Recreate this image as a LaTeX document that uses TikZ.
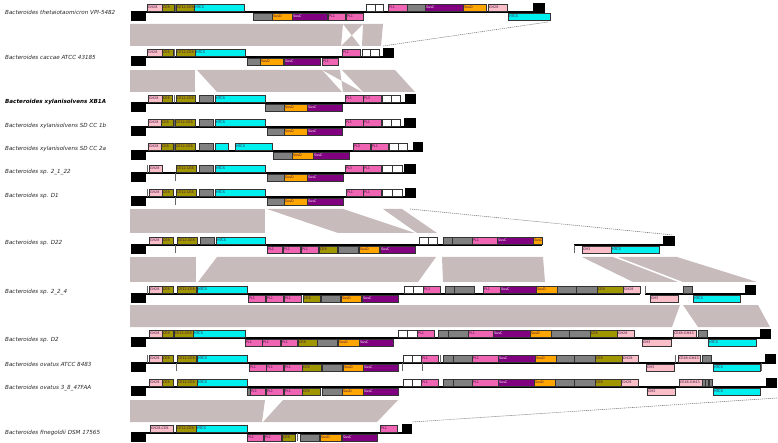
\documentclass[tikz,border=0pt]{standalone}
\usepackage{fontspec}
\setmainfont{DejaVu Sans}
\definecolor{cGH}{RGB}{250,190,200}
\definecolor{cCE}{RGB}{160,150,0}
\definecolor{cHT}{RGB}{0,240,240}
\definecolor{cGR}{RGB}{128,128,128}
\definecolor{cSD}{RGB}{255,165,0}
\definecolor{cSC}{RGB}{128,0,128}
\definecolor{cPL}{RGB}{240,100,180}
\definecolor{cBD}{RGB}{200,187,187}
\definecolor{cTX}{RGB}{70,20,70}
\newcounter{nn}
\tikzset{
 gene/.style={draw=black!80, line width=0.5pt},
 glab/.style={anchor=west, inner sep=0pt, font=\fontsize{3.4}{3.4}\selectfont, text=cTX},
 sp/.style={anchor=west, inner sep=0pt, font=\fontsize{5.6}{6}\selectfont\itshape, text=black!85},
 sGH/.style={fill=cGH}, sCE/.style={fill=cCE}, sHT/.style={fill=cHT},
 sGR/.style={fill=cGR}, sSD/.style={fill=cSD}, sSC/.style={fill=cSC},
 sPL/.style={fill=cPL}, sWH/.style={fill=white},
 hom/.style={fill=cBD},
 dline/.style={draw=black!50, dashed, dash pattern=on 1.2pt off 0.8pt, line width=0.6pt}
}
\newcommand\gT[4]{\stepcounter{nn}\draw[gene,#3] (#1,\BL-8) rectangle (#2,\BL-1);\node[glab] (n\arabic{nn}) at (#1+0.8,\BL-4.5) {#4};}
\newcommand\gB[4]{\stepcounter{nn}\draw[gene,#3] (#1,\BL+1) rectangle (#2,\BL+8);\node[glab] (n\arabic{nn}) at (#1+0.8,\BL+4.5) {#4};}
\newcommand\lend{\fill (131,\BL) rectangle (146,\BL+9);}
\newcommand\rend[2]{\fill (#1,\BL-9) rectangle (#2,\BL);}
\newcommand\tkT[1]{\fill[black!60] (#1,\BL-8) rectangle (#1+1.4,\BL);}
\newcommand\tkB[1]{\fill[black!60] (#1,\BL) rectangle (#1+1.4,\BL+8);}
\newcommand\bline[2]{\draw[line width=1.8pt] (#1,\BL) -- (#2,\BL);}
\newcommand\hb[6]{\fill[hom] (#1,#5) -- (#2,#5) -- (#4,#6) -- (#3,#6) -- cycle;}
\newcommand\hx[6]{\fill[hom] (#1,#5) -- (#2,#5) -- (#3,#6) -- (#4,#6) -- cycle;}
\newcommand\wt[1]{\textcolor{white!85!pink}{#1}}
\begin{document}
\begin{tikzpicture}[x=1pt,y=-1pt]
\useasboundingbox (0,0) rectangle (778,443);
% ---------- homology bands ----------
\hb{130}{343}{130}{341}{24}{46}
\hx{343}{363}{341}{360}{24}{46}
\hb{363}{383}{362}{381}{24}{46}
\coordinate (d1a) at (383,46); \coordinate (d1b) at (548,22);
\draw[dline] (d1a) -- (d1b);
\hb{130}{195}{130}{195}{70}{92}
\hb{197}{322}{217}{342}{70}{92}
\hx{322}{340}{343}{362}{70}{92}
\hb{342}{395}{363}{415}{70}{92}
\hb{130}{265}{130}{265}{209}{233}
\hb{267}{343}{338}{415}{209}{233}
\hb{383}{402}{417}{437}{209}{233}
\coordinate (d2a) at (410,209); \coordinate (d2b) at (673,235);
\draw[dline] (d2a) -- (d2b);
\hb{130}{196}{130}{196}{257}{282}
\hb{217}{436}{198}{418}{257}{282}
\hb{442}{543}{443}{545}{257}{282}
\hb{582}{613}{633}{678}{257}{282}
\hb{618}{677}{683}{757}{257}{282}
\hb{130}{680}{130}{672}{305}{327}
\hb{683}{758}{698}{770}{305}{327}
\hb{130}{265}{130}{262}{400}{422}
\hb{283}{398}{263}{377}{400}{422}
\coordinate (d3a) at (777,398); \coordinate (d3b) at (412,422);
\draw[dline] (d3a) -- (d3b);
% ---------- species labels ----------
\node[sp] (l1) at (5,12) {Bacteroides thetaiotaomicron VPI-5482};
\node[sp] (l2) at (5,57) {Bacteroides caccae ATCC 43185};
\node[sp,font=\fontsize{5.6}{6}\selectfont\itshape\bfseries,text=black] (l3) at (5,102) {Bacteroides xylanisolvens XB1A};
\node[sp] (l4) at (5,126) {Bacteroides xylanisolvens SD CC 1b};
\node[sp] (l5) at (5,149) {Bacteroides xylanisolvens SD CC 2a};
\node[sp] (l6) at (5,172) {Bacteroides sp. 2\_1\_22};
\node[sp] (l7) at (5,196) {Bacteroides sp. D1};
\node[sp] (l8) at (5,243) {Bacteroides sp. D22};
\node[sp] (l9) at (5,292) {Bacteroides sp. 2\_2\_4};
\node[sp] (l10) at (5,340) {Bacteroides sp. D2};
\node[sp] (l11) at (5,364) {Bacteroides ovatus ATCC 8483};
\node[sp] (l12) at (5,388) {Bacteroides ovatus 3\_8\_47FAA};
\node[sp] (l13) at (5,433) {Bacteroides finegoldii DSM 17565};
% ---------- track 1 ----------
\def\BL{12}
\bline{131}{545}\lend
\gT{147}{162}{sGH}{GH28}\gT{162}{174}{sCE}{CE8}\tkT{174.5}
\gT{176}{194}{sCE}{CE12-CE8}\gT{194}{244}{sHT}{HTCS}
\gT{366}{375}{sWH}{}\gT{375}{383}{sWH}{}
\gT{388}{407}{sPL}{PL1}\gT{407}{425}{sGR}{}\gT{425}{463}{sSC}{\wt{SusC}}
\gT{463}{486}{sSD}{SusD}\gT{488}{507}{sGH}{GH28}\rend{533}{545}
\gB{253}{272}{sGR}{}\gB{272}{292}{sSD}{SusD}\gB{292}{327}{sSC}{\wt{SusC}}
\gB{328}{345}{sPL}{PL1}\gB{346}{363}{sPL}{PL1}\gB{508}{550}{sHT}{HTCS}
% ---------- track 2 ----------
\def\BL{57}
\bline{131}{394}\lend
\gT{147}{162}{sGH}{GH28}\gT{162}{173}{sCE}{CE8}\tkT{174}
\gT{176}{195}{sCE}{CE12-CE8}\gT{195}{245}{sHT}{HTCS}
\gT{342}{360}{sPL}{PL1}\gT{362}{370}{sWH}{}\gT{370}{379}{sWH}{}\rend{383}{394}
\gB{247}{260}{sGR}{}\gB{260}{283}{sSD}{SusD}\gB{284}{320}{sSC}{\wt{SusC}}
\gB{322}{338}{sPL}{PL1}
% ---------- track 3 ----------
\def\BL{103}
\bline{131}{416}\lend
\gT{148}{162}{sGH}{GH28}\gT{162}{172}{sCE}{CE8}\tkT{173.5}
\gT{176}{195}{sCE}{CE12-CE8}\gT{199}{213}{sGR}{}\gT{215}{265}{sHT}{HTCS}
\gT{345}{363}{sPL}{PL1}\gT{363}{381}{sPL}{PL3}\gT{382}{391}{sWH}{}\gT{391}{400}{sWH}{}\rend{405}{416}
\gB{265}{284}{sGR}{}\gB{284}{307}{sSD}{SusD}\gB{307}{342}{sSC}{\wt{SusC}}
% ---------- track 4 ----------
\def\BL{127}
\bline{131}{416}\lend
\gT{148}{161}{sGH}{GH28}\gT{161}{173}{sCE}{CE8}\tkT{173.5}
\gT{175}{195}{sCE}{CE12-CE8}\gT{199}{213}{sGR}{}\gT{215}{265}{sHT}{HTCS}
\gT{345}{363}{sPL}{PL1}\gT{363}{381}{sPL}{PL1}\gT{382}{391}{sWH}{}\gT{391}{400}{sWH}{}\rend{404}{416}
\gB{267}{284}{sGR}{}\gB{284}{307}{sSD}{SusD}\gB{307}{342}{sSC}{\wt{SusC}}
% ---------- track 5 ----------
\def\BL{151}
\bline{131}{423}\lend
\gT{148}{161}{sGH}{GH28}\gT{161}{173}{sCE}{CE8}\tkT{173.5}
\gT{175}{195}{sCE}{CE12-CE8}\gT{199}{213}{sGR}{}\gT{215}{228}{sHT}{}\gT{235}{272}{sHT}{HTCS}
\gT{353}{370}{sPL}{PL3}\gT{371}{388}{sPL}{PL1}\gT{389}{398}{sWH}{}\gT{398}{407}{sWH}{}\rend{413}{423}
\gB{273}{292}{sGR}{}\gB{292}{313}{sSD}{SusD}\gB{313}{349}{sSC}{\wt{SusC}}
% ---------- track 6 ----------
\def\BL{173}
\bline{131}{416}\lend\tkT{146.5}
\gT{149}{162}{sGH}{GH28}
\gT{176}{196}{sCE}{CE12-CE8}\gT{199}{213}{sGR}{}\gT{215}{265}{sHT}{HTCS}
\gT{345}{363}{sPL}{PL3}\gT{363}{381}{sPL}{PL1}\gT{382}{392}{sWH}{}\gT{392}{402}{sWH}{}\rend{404}{416}
\tkB{174.5}
\gB{267}{284}{sGR}{}\gB{284}{307}{sSD}{SusD}\gB{307}{343}{sSC}{\wt{SusC}}
% ---------- track 7 ----------
\def\BL{197}
\bline{131}{416}\lend\tkT{146.5}
\gT{149}{162}{sGH}{GH28}\gT{162}{173}{sCE}{CE8}
\gT{176}{196}{sCE}{CE12-CE8}\gT{199}{213}{sGR}{}\gT{215}{265}{sHT}{HTCS}
\gT{346}{363}{sPL}{PL1}\gT{363}{381}{sPL}{PL1}\gT{382}{392}{sWH}{}\gT{392}{402}{sWH}{}\rend{405}{416}
\tkB{174.5}
\gB{267}{284}{sGR}{}\gB{284}{307}{sSD}{SusD}\gB{307}{343}{sSC}{\wt{SusC}}
% ---------- track 8 ----------
\def\BL{245}
\bline{131}{542}\lend
\gT{149}{162}{sGH}{GH28}\gT{162}{173}{sCE}{CE8}
\gT{177}{197}{sCE}{CE12-CE8}\gT{200}{214}{sGR}{}\gT{216}{265}{sHT}{HTCS}
\gT{419}{428}{sWH}{}\gT{428}{437}{sWH}{}\gT{443}{452}{sGR}{}\gT{452}{472}{sGR}{}
\gT{472}{497}{sPL}{PL1}\gT{497}{533}{sSC}{\wt{SusC}}\gT{533}{542}{sSD}{SusD}
\tkB{174.5}
\gB{267}{282}{sPL}{PL1}\gB{283}{300}{sPL}{PL1}\gB{301}{318}{sPL}{PL1}\gB{319}{337}{sCE}{CE8}
\gB{338}{358}{sGR}{}\gB{359}{379}{sSD}{SusD}\gB{380}{415}{sSC}{\wt{SusC}}
\bline{574}{675}\rend{663}{675}\tkB{574}
\gB{582}{611}{sGH}{GH3}\gB{611}{659}{sHT}{HTCS}
% ---------- track 9 ----------
\def\BL{294}
\bline{131}{640}\lend\tkT{146.5}
\gT{149}{162}{sGH}{GH28}\gT{162}{173}{sCE}{CE8}
\gT{177}{196}{sCE}{CE12-CE8}\gT{197}{247}{sHT}{HTCS}
\gT{404}{413}{sWH}{}\gT{413}{423}{sWH}{}\gT{423}{440}{sPL}{PL3}
\gT{445}{454}{sGR}{}\gT{454}{474}{sGR}{}\gT{483}{500}{sPL}{PL1}\gT{500}{536}{sSC}{\wt{SusC}}
\gT{536}{557}{sSD}{SusD}\gT{557}{576}{sGR}{}\gT{576}{597}{sGR}{}\gT{597}{623}{sCE}{CE8}\gT{623}{640}{sGH}{GH28}
\gB{248}{265}{sPL}{PL1}\gB{266}{283}{sPL}{PL1}\gB{284}{301}{sPL}{PL1}\gB{303}{320}{sCE}{CE8}
\gB{321}{340}{sGR}{}\gB{341}{361}{sSD}{SusD}\gB{362}{398}{sSC}{\wt{SusC}}
\bline{645}{756}\tkT{645}\rend{745}{756}\gT{683}{692}{sGR}{}
\gB{650}{678}{sGH}{GH3}\gB{693}{740}{sHT}{HTCS}
% ---------- track 10 ----------
\def\BL{338}
\bline{131}{771}\lend
\gT{149}{162}{sGH}{GH28}\gT{162}{173}{sCE}{CE8}
\gT{174}{193}{sCE}{CE12-CE8}\gT{193}{245}{sHT}{HTCS}
\gT{398}{407}{sWH}{}\gT{407}{417}{sWH}{}\gT{417}{434}{sPL}{PL1}
\gT{438}{448}{sGR}{}\gT{448}{468}{sGR}{}\gT{468}{493}{sPL}{PL1}\gT{493}{530}{sSC}{\wt{SusC}}
\gT{530}{551}{sSD}{SusD}\gT{551}{569}{sGR}{}\gT{569}{590}{sGR}{}\gT{590}{617}{sCE}{CE8}\gT{617}{634}{sGH}{GH28}
\gT{673}{696}{sGH}{CE48-GH43}\gT{698}{707}{sGR}{}\rend{760}{771}
\gB{245}{262}{sPL}{PL1}\gB{262}{280}{sPL}{PL1}\gB{281}{297}{sPL}{PL1}\gB{298}{317}{sCE}{CE8}
\gB{317}{337}{sGR}{}\gB{338}{359}{sSD}{SusD}\gB{359}{393}{sSC}{\wt{SusC}}
\gB{642}{671}{sGH}{GH3}\gB{708}{756}{sHT}{HTCS}
% ---------- track 11 ----------
\def\BL{363}
\bline{131}{776}\lend\tkT{146.5}
\gT{149}{162}{sGH}{GH28}\gT{162}{173}{sCE}{CE8}
\gT{177}{196}{sCE}{CE12-CE8}\gT{197}{247}{sHT}{HTCS}
\gT{403}{412}{sWH}{}\gT{412}{421}{sWH}{}\gT{421}{438}{sPL}{PL1}\tkT{440}
\gT{443}{453}{sGR}{}\gT{453}{472}{sGR}{}\gT{472}{498}{sPL}{PL1}\gT{498}{535}{sSC}{\wt{SusC}}
\gT{535}{556}{sSD}{SusD}\gT{556}{574}{sGR}{}\gT{574}{595}{sGR}{}\gT{595}{622}{sCE}{CE8}\gT{622}{638}{sGH}{GH28}
\tkT{675}\gT{678}{700}{sGH}{CE48-GH43}\gT{702}{711}{sGR}{}\rend{765}{776}
\tkB{175.5}
\gB{249}{266}{sPL}{PL1}\gB{266}{283}{sPL}{PL1}\gB{284}{302}{sPL}{PL1}\gB{302}{321}{sCE}{CE8}
\gB{322}{342}{sGR}{}\gB{343}{363}{sSD}{SusD}\gB{363}{398}{sSC}{\wt{SusC}}
\tkB{402}\tkB{422}
\gB{646}{674}{sGH}{GH3}\gB{713}{760}{sHT}{HTCS}\tkB{761}
% ---------- track 12 ----------
\def\BL{387}
\bline{131}{777}\lend
\gT{149}{162}{sGH}{GH28}\gT{162}{173}{sCE}{CE8}
\gT{177}{197}{sCE}{CE12-CE8}\gT{197}{247}{sHT}{HTCS}
\gT{403}{412}{sWH}{}\gT{412}{421}{sWH}{}\gT{421}{438}{sPL}{PL1}
\gT{443}{453}{sGR}{}\gT{453}{472}{sGR}{}\gT{472}{498}{sPL}{PL1}\gT{498}{534}{sSC}{\wt{SusC}}
\gT{534}{555}{sSD}{SusD}\gT{555}{574}{sGR}{}\gT{574}{595}{sGR}{}\gT{595}{621}{sCE}{CE8}\gT{621}{638}{sGH}{GH28}
\gT{679}{702}{sGH}{CE48-GH43}\gT{702}{705}{sGR}{}\gT{705.5}{708.5}{sGR}{}\gT{709}{712}{sGR}{}\rend{766}{777}
\gB{247}{250}{sGR}{}\gB{250}{265}{sPL}{PL1}\gB{266}{283}{sPL}{PL1}\gB{284}{302}{sPL}{PL1}\gB{302}{320}{sCE}{CE8}
\gB{322}{342}{sGR}{}\gB{342}{363}{sSD}{SusD}\gB{363}{398}{sSC}{\wt{SusC}}
\gB{647}{675}{sGH}{GH3}\gB{713}{760}{sHT}{HTCS}
% ---------- track 13 ----------
\def\BL{433}
\bline{131}{412}\lend
\gT{150}{173}{sGH}{GH28-CE8}\gT{176}{196}{sCE}{CE12-CE8}\gT{196}{247}{sHT}{HTCS}
\gT{380}{397}{sPL}{PL1}\rend{402}{412}
\gB{247}{263}{sPL}{PL1}\gB{264}{281}{sPL}{PL1}\gB{282}{295}{sCE}{CE8}\tkB{297}
\gB{300}{319}{sGR}{}\gB{320}{341}{sSD}{SusD}\gB{342}{377}{sSC}{\wt{SusC}}
\end{tikzpicture}
\end{document}
